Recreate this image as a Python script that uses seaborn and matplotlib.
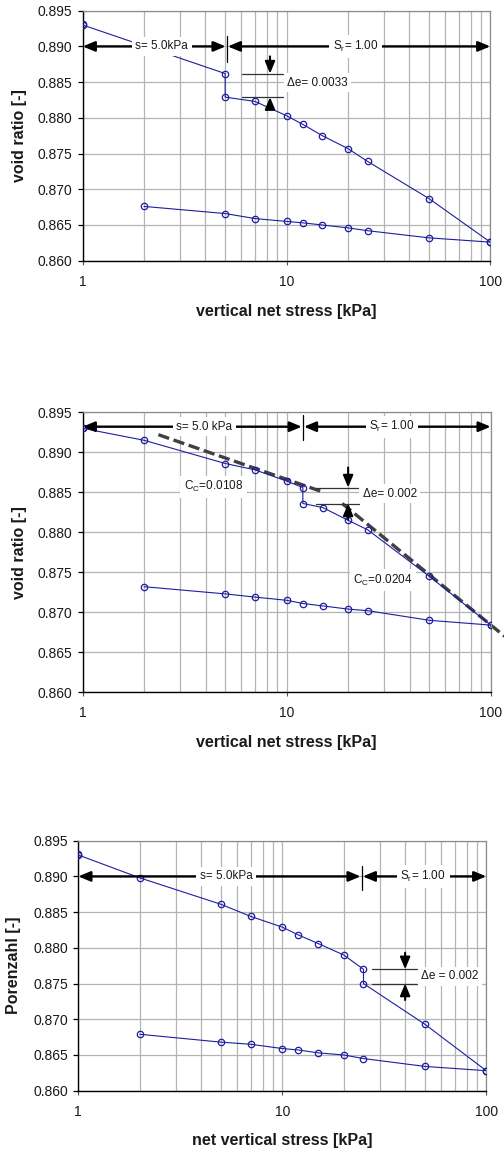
import numpy as np
import pandas as pd
import matplotlib
matplotlib.use("Agg")
import matplotlib.pyplot as plt
import seaborn as sns
from matplotlib.ticker import FixedLocator, FuncFormatter, LogLocator, NullFormatter

# ---- oedometer test data: net vertical stress [kPa] vs. void ratio [-] ----
# test 1: wetting step at 5 kPa
stress_load_1 = [1, 1, 5, 5, 7, 10, 12, 15, 20, 25, 50, 100]
void_load_1 = [0.8931, 0.8930, 0.8862, 0.8829, 0.8823, 0.8803, 0.8791,
               0.8775, 0.8757, 0.8739, 0.8687, 0.8626]
# test 2: wetting step at 12 kPa
stress_load_2 = [1, 1, 2, 5, 7, 10, 12, 12, 15, 20, 25, 50, 100]
void_load_2 = [0.8931, 0.8930, 0.8915, 0.8886, 0.8878, 0.8864, 0.8856,
               0.8836, 0.8831, 0.8815, 0.8803, 0.8745, 0.8684]
# test 3: wetting step at 25 kPa
stress_load_3 = [1, 1, 2, 5, 7, 10, 12, 15, 20, 25, 25, 50, 100]
void_load_3 = [0.8931, 0.8930, 0.8898, 0.8861, 0.8844, 0.8829, 0.8818,
               0.8806, 0.8790, 0.8770, 0.8750, 0.8693, 0.8628]

# unloading branch (same stress steps for all tests)
stress_unload = [100, 50, 25, 20, 15, 12, 10, 7, 5, 2]
void_unload_1 = [0.8626, 0.8632, 0.8642, 0.8646, 0.8650, 0.8653, 0.8655,
                 0.8659, 0.8666, 0.8676]
void_unload_2 = [0.8684, 0.8690, 0.8702, 0.8704, 0.8708, 0.8711, 0.8715,
                 0.8719, 0.8723, 0.8732]
void_unload_3 = [0.8628, 0.8634, 0.8645, 0.8650, 0.8653, 0.8657, 0.8659,
                 0.8665, 0.8668, 0.8679]

# compression-index fits for test 2: (stress, void ratio) end points
cc_fit_1_stress = [2.35, 15.2]
cc_fit_1_void = [0.8922, 0.8850]
cc_fit_2_stress = [18.7, 117.0]
cc_fit_2_void = [0.8836, 0.8670]

# axis ticks
x_ticks = [1, 10, 100]
x_tick_labels = ["1", "10", "100"]
y_ticks = [0.860, 0.865, 0.870, 0.875, 0.880, 0.885, 0.890, 0.895]

# ---- style ----
sns.set_theme(style="white")
plt.rcParams["font.family"] = ["Liberation Sans", "DejaVu Sans"]
plt.rcParams["mathtext.fontset"] = "custom"
plt.rcParams["mathtext.rm"] = "Liberation Sans"
plt.rcParams["mathtext.it"] = "Liberation Sans:italic"
plt.rcParams["mathtext.bf"] = "Liberation Sans:bold"

LINE_BLUE = "#1e1ea0"
GRID = "#b4b4b4"
TXT = "#1a1a1a"
ANN_FS = 8.5

fig = plt.figure(figsize=(5.04, 11.53), dpi=100)
W, H = 504.0, 1153.0


def add_axes(left, right, top, bottom):
    return fig.add_axes([left / W, 1 - bottom / H, (right - left) / W, (bottom - top) / H])


def draw_series(ax, xs, ys):
    df = pd.DataFrame({"stress": xs, "void": ys})
    sns.lineplot(data=df, x="stress", y="void", ax=ax, sort=False, estimator=None,
                 color=LINE_BLUE, lw=0.8, marker="o", markersize=4.6,
                 markerfacecolor="none", markeredgecolor=LINE_BLUE,
                 markeredgewidth=0.9, zorder=3)


def style_axes(ax, xlabel, ylabel, xlab_y, ylab_x):
    ax.set_xscale("log")
    ax.set_xlim(1, 100)
    ax.set_ylim(0.860, 0.895)
    ax.xaxis.set_major_locator(FixedLocator(x_ticks))
    ax.xaxis.set_major_formatter(FuncFormatter(lambda v, p: x_tick_labels[x_ticks.index(int(round(v)))]
                                               if int(round(v)) in x_ticks else ""))
    ax.xaxis.set_minor_locator(LogLocator(base=10, subs=np.arange(2, 10)))
    ax.xaxis.set_minor_formatter(NullFormatter())
    ax.yaxis.set_major_locator(FixedLocator(y_ticks))
    ax.yaxis.set_major_formatter(FuncFormatter(lambda v, p: f"{v:.3f}"))
    ax.set_axisbelow(True)
    ax.grid(True, which="both", axis="x", color=GRID, lw=0.9)
    ax.grid(True, which="major", axis="y", color=GRID, lw=0.9)
    ax.tick_params(axis="x", which="major", length=3, width=0.8, color="#555555",
                   labelsize=10, pad=7, labelcolor=TXT, bottom=True)
    ax.tick_params(axis="x", which="minor", length=0)
    ax.tick_params(axis="y", which="major", length=3.5, width=0.9, color="black",
                   labelsize=10, pad=4, labelcolor=TXT, left=True)
    for side in ("left", "bottom"):
        ax.spines[side].set_color("black")
        ax.spines[side].set_linewidth(1.0)
    for side in ("top", "right"):
        ax.spines[side].set_color("#8c8c8c")
        ax.spines[side].set_linewidth(0.9)
    ax.set_xlabel(xlabel, fontsize=11.5, fontweight="bold", color=TXT, va="center")
    ax.set_ylabel(ylabel, fontsize=11.5, fontweight="bold", color=TXT, va="center")
    ax.xaxis.set_label_coords(0.5, xlab_y)
    ax.yaxis.set_label_coords(ylab_x, 0.5)


def label(ax, x, y, s):
    ax.text(x, y, s, ha="center", va="center", fontsize=ANN_FS, color=TXT, zorder=6,
            bbox=dict(boxstyle="square,pad=0.3", fc="white", ec="none"))


ARROW_STYLE = "-|>,head_length=0.6,head_width=0.25"
DOUBLE_STYLE = "<|-|>,head_length=0.6,head_width=0.25"


def double_arrow(ax, x0, x1, y):
    ax.annotate("", xy=(x1, y), xytext=(x0, y), annotation_clip=False, zorder=5,
                arrowprops=dict(arrowstyle=DOUBLE_STYLE, lw=1.7, color="black",
                                shrinkA=0, shrinkB=0, mutation_scale=12))


def single_arrow(ax, x, y_from, y_to):
    ax.annotate("", xy=(x, y_to), xytext=(x, y_from), annotation_clip=False, zorder=5,
                arrowprops=dict(arrowstyle=ARROW_STYLE, lw=1.5, color="black",
                                shrinkA=0, shrinkB=0, mutation_scale=12))


def suction_bar(ax, y, x_split, tick_lo, tick_hi, s_text, s_x, sr_x):
    double_arrow(ax, 1.0, x_split / 1.012, y)
    double_arrow(ax, x_split * 1.012, 100.0, y)
    ax.plot([x_split, x_split], [tick_lo, tick_hi], color="black", lw=0.9, zorder=5)
    label(ax, s_x, y, s_text)
    label(ax, sr_x, y, r"S$_\mathrm{r}$= 1.00")


def delta_e(ax, x_lo, x_hi, e_top, e_bot, x_arrow, y_top, y_bot, text, tx, ty):
    ax.plot([x_lo, x_hi], [e_top, e_top], color="#333333", lw=0.9, zorder=4)
    ax.plot([x_lo, x_hi], [e_bot, e_bot], color="#333333", lw=0.9, zorder=4)
    single_arrow(ax, x_arrow, y_top, e_top)
    single_arrow(ax, x_arrow, y_bot, e_bot)
    label(ax, tx, ty, text)


# ---- panel 1 ----
ax1 = add_axes(82.7, 490.3, 10.7, 260.7)
draw_series(ax1, stress_load_1, void_load_1)
draw_series(ax1, stress_unload, void_unload_1)
style_axes(ax1, "vertical net stress [kPa]", "void ratio [-]", -0.205, -0.156)
suction_bar(ax1, 0.890, 5.09, 0.8878, 0.8915, "s= 5.0kPa", 2.44, 21.8)
delta_e(ax1, 6.03, 9.65, void_load_1[2], void_load_1[3], 8.3, 0.8886, 0.8815,
        "\u0394e= 0.0033", 14.2, 0.8849)

# ---- panel 2 ----
ax2 = add_axes(82.7, 490.7, 412.3, 692.3)
draw_series(ax2, stress_load_2, void_load_2)
draw_series(ax2, stress_unload, void_unload_2)
style_axes(ax2, "vertical net stress [kPa]", "void ratio [-]", -0.1775, -0.156)
ax2.plot(cc_fit_1_stress, cc_fit_1_void, color="#404040", lw=2.4, ls=(0, (3.4, 1.4)),
         zorder=2.5, dash_capstyle="butt")
ax2.plot(cc_fit_2_stress, cc_fit_2_void, color="#404040", lw=2.4, ls=(0, (3.4, 1.4)),
         zorder=2.5, clip_on=False, dash_capstyle="butt")
suction_bar(ax2, 0.8932, 12.0, 0.8916, 0.8947, "s= 5.0 kPa", 3.94, 32.8)
delta_e(ax2, 13.96, 22.7, void_load_2[6], void_load_2[7], 20.0, 0.8881, 0.8816,
        "\u0394e= 0.002", 32.0, 0.8848)
label(ax2, 4.38, 0.8857, r"C$_\mathrm{C}$=0.0108")
label(ax2, 29.6, 0.8740, r"C$_\mathrm{C}$=0.0204")

# ---- panel 3 ----
ax3 = add_axes(78.3, 486.3, 840.7, 1090.7)
draw_series(ax3, stress_load_3, void_load_3)
draw_series(ax3, stress_unload, void_unload_3)
style_axes(ax3, "net vertical stress [kPa]", "Porenzahl [-]", -0.201, -0.160)
suction_bar(ax3, 0.890, 24.5, 0.8881, 0.89145, "s= 5.0kPa", 5.30, 49.1)
delta_e(ax3, 27.6, 45.5, void_load_3[9], void_load_3[10], 40.0, 0.8793, 0.8727,
        "\u0394e = 0.002", 66.4, 0.8760)

fig.savefig("out.png", dpi=100, facecolor="white")
